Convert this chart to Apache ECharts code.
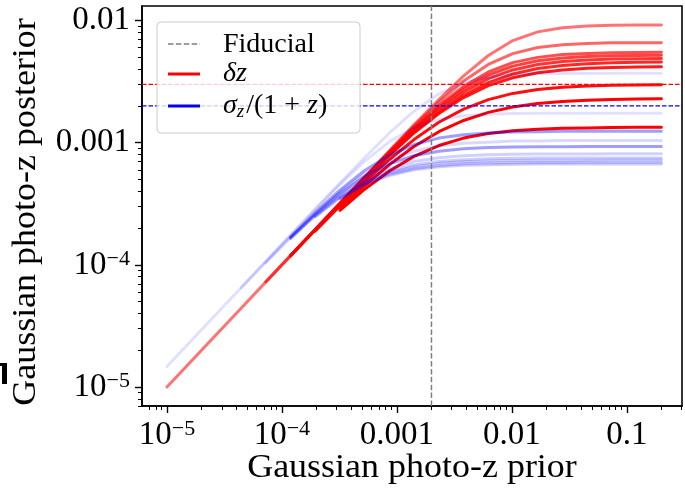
<!DOCTYPE html>
<html>
<head>
<meta charset="utf-8">
<script src="https://cdn.jsdelivr.net/npm/echarts@6/dist/echarts.min.js"></script>
<style>
  html, body { margin: 0; padding: 0; background: #ffffff; }
  #chart { width: 685px; height: 490px; }
</style>
</head>
<body>
<div id="chart"></div>
<script>
// Prior widths (x) at which the posterior was evaluated
const prior = [1.00e-5, 1.64e-5, 2.69e-5, 4.42e-5, 7.25e-5, 1.19e-4, 1.95e-4, 3.20e-4, 5.25e-4, 8.62e-4,
               1.41e-3, 2.32e-3, 3.81e-3, 6.25e-3, 1.02e-2, 1.68e-2, 2.76e-2, 4.53e-2, 7.43e-2, 0.122, 0.2];

// Posterior on the photo-z shift, one curve per tomographic bin (null = not evaluated)
const dz1  = [1.00e-5,1.64e-5,2.69e-5,4.42e-5,7.25e-5,1.19e-4,1.95e-4,3.20e-4,5.24e-4,8.57e-4,1.40e-3,2.25e-3,3.52e-3,5.17e-3,6.85e-3,8.07e-3,8.73e-3,9.02e-3,9.14e-3,9.18e-3,9.20e-3];
const dz2  = [null,null,null,null,7.25e-5,1.19e-4,1.95e-4,3.19e-4,5.22e-4,8.50e-4,1.37e-3,2.15e-3,3.20e-3,4.37e-3,5.36e-3,6.01e-3,6.34e-3,6.49e-3,6.56e-3,6.58e-3,6.59e-3];
const dz3  = [null,null,null,null,null,1.19e-4,1.95e-4,3.18e-4,5.18e-4,8.35e-4,1.32e-3,2.02e-3,2.89e-3,3.79e-3,4.52e-3,4.99e-3,5.26e-3,5.38e-3,5.45e-3,5.48e-3,5.49e-3];
const dz4  = [null,null,null,null,null,1.19e-4,1.94e-4,3.17e-4,5.14e-4,8.25e-4,1.29e-3,1.95e-3,2.75e-3,3.57e-3,4.23e-3,4.68e-3,4.93e-3,5.07e-3,5.14e-3,5.17e-3,5.19e-3];
const dz5  = [null,null,null,null,null,1.19e-4,1.94e-4,3.15e-4,5.09e-4,8.11e-4,1.26e-3,1.87e-3,2.60e-3,3.34e-3,3.94e-3,4.36e-3,4.61e-3,4.75e-3,4.83e-3,4.86e-3,4.88e-3];
const dz6  = [null,null,null,null,null,null,1.93e-4,3.13e-4,5.02e-4,7.93e-4,1.22e-3,1.78e-3,2.44e-3,3.10e-3,3.65e-3,4.04e-3,4.28e-3,4.43e-3,4.51e-3,4.55e-3,4.57e-3];
const dz7  = [null,null,null,null,null,null,1.92e-4,3.12e-4,5.00e-4,7.86e-4,1.20e-3,1.73e-3,2.34e-3,2.93e-3,3.40e-3,3.74e-3,3.94e-3,4.06e-3,4.13e-3,4.16e-3,4.18e-3];
const dz8  = [null,null,null,null,null,null,1.89e-4,3.03e-4,4.77e-4,7.28e-4,1.06e-3,1.47e-3,1.88e-3,2.25e-3,2.53e-3,2.72e-3,2.84e-3,2.91e-3,2.95e-3,2.97e-3,2.98e-3];
const dz9  = [null,null,null,null,null,null,null,2.90e-4,4.46e-4,6.61e-4,9.30e-4,1.23e-3,1.52e-3,1.77e-3,1.96e-3,2.09e-3,2.17e-3,2.22e-3,2.26e-3,2.28e-3,2.29e-3];
const dz10 = [null,null,null,null,null,null,null,2.79e-4,4.16e-4,5.86e-4,7.72e-4,9.47e-4,1.09e-3,1.19e-3,1.25e-3,1.29e-3,1.31e-3,1.32e-3,1.33e-3,1.34e-3,1.34e-3];

// Posterior on the scatter sigma_z/(1+z), one curve per tomographic bin (null = not evaluated)
const sz1  = [1.47e-5,2.41e-5,3.96e-5,6.49e-5,1.07e-4,1.75e-4,2.86e-4,4.67e-4,7.56e-4,1.20e-3,1.81e-3,2.51e-3,3.09e-3,3.43e-3,3.59e-3,3.66e-3,3.68e-3,3.69e-3,3.70e-3,3.70e-3,3.70e-3];
const sz2  = [null,null,null,6.49e-5,1.06e-4,1.74e-4,2.83e-4,4.54e-4,7.06e-4,1.02e-3,1.33e-3,1.55e-3,1.66e-3,1.71e-3,1.73e-3,1.74e-3,1.74e-3,1.74e-3,1.74e-3,1.74e-3,1.74e-3];
const sz3  = [null,null,null,null,null,1.69e-4,2.67e-4,4.09e-4,5.92e-4,7.90e-4,9.63e-4,1.09e-3,1.16e-3,1.20e-3,1.22e-3,1.23e-3,1.24e-3,1.24e-3,1.24e-3,1.24e-3,1.24e-3];
const sz4  = [null,null,null,null,1.04e-4,1.67e-4,2.62e-4,3.94e-4,5.56e-4,7.18e-4,8.50e-4,9.38e-4,9.88e-4,1.01e-3,1.03e-3,1.03e-3,1.04e-3,1.04e-3,1.04e-3,1.04e-3,1.04e-3];
const sz5  = [null,null,null,null,null,1.66e-4,2.58e-4,3.84e-4,5.31e-4,6.72e-4,7.81e-4,8.51e-4,8.90e-4,9.11e-4,9.21e-4,9.26e-4,9.28e-4,9.29e-4,9.30e-4,9.30e-4,9.30e-4];
const sz6  = [null,null,null,null,null,1.64e-4,2.53e-4,3.69e-4,4.98e-4,6.15e-4,7.01e-4,7.53e-4,7.82e-4,7.96e-4,8.03e-4,8.07e-4,8.09e-4,8.09e-4,8.10e-4,8.10e-4,8.10e-4];
const sz7  = [null,null,null,null,null,null,2.49e-4,3.60e-4,4.79e-4,5.84e-4,6.58e-4,7.02e-4,7.26e-4,7.38e-4,7.45e-4,7.48e-4,7.49e-4,7.50e-4,7.50e-4,7.50e-4,7.50e-4];
const sz8  = [null,null,null,null,null,null,2.47e-4,3.55e-4,4.69e-4,5.68e-4,6.36e-4,6.77e-4,6.98e-4,7.09e-4,7.15e-4,7.17e-4,7.19e-4,7.19e-4,7.20e-4,7.20e-4,7.20e-4];
const sz9  = [null,null,null,null,null,null,null,3.49e-4,4.59e-4,5.51e-4,6.14e-4,6.51e-4,6.71e-4,6.81e-4,6.86e-4,6.88e-4,6.89e-4,6.90e-4,6.90e-4,6.90e-4,6.90e-4];
const sz10 = [null,null,null,null,null,null,null,3.46e-4,4.52e-4,5.39e-4,5.99e-4,6.34e-4,6.52e-4,6.61e-4,6.66e-4,6.68e-4,6.69e-4,6.70e-4,6.70e-4,6.70e-4,6.70e-4];

// Fiducial values
const fiducialPrior = 0.002;
const fiducialDeltaZ = 0.003;
const fiducialSigmaZ = 0.002;

// Tick values and their labels
const xTickValues = [1e-5, 1e-4, 1e-3, 1e-2, 1e-1];
const xTickLabels = ['10^-5', '10^-4', '0.001', '0.01', '0.1'];
const yTickValues = [1e-5, 1e-4, 1e-3, 1e-2];
const yTickLabels = ['10^-5', '10^-4', '0.001', '0.01'];

// Axis titles
const xTitle = 'Gaussian photo-z prior';
const yTitle = 'Gaussian photo-z posterior';

// Line opacities per bin
const redAlpha  = [0.55, 0.6, 0.7, 0.75, 0.8, 0.85, 0.9, 0.95, 1.0, 1.0];
const blueAlpha = [0.12, 0.12, 0.38, 0.15, 0.38, 0.18, 0.2, 0.2, 0.2, 0.2];

const deltaZCurves = [dz1, dz2, dz3, dz4, dz5, dz6, dz7, dz8, dz9, dz10];
const sigmaZCurves = [sz1, sz2, sz3, sz4, sz5, sz6, sz7, sz8, sz9, sz10];

const X_MIN = Math.pow(10, -5.217), X_MAX = Math.pow(10, -0.5195);
const Y_MIN = Math.pow(10, -5.1555), Y_MAX = Math.pow(10, -1.8813);

const FONT = 'Liberation Serif';

// minor ticks at 2..9 x 10^n inside the axis range
function minorTicks(lo, hi) {
  const out = [];
  for (let e = -7; e <= 0; e++) {
    for (let m = 2; m <= 9; m++) {
      const v = m * Math.pow(10, e);
      if (v >= lo && v <= hi) out.push(v);
    }
  }
  return out;
}

function tickFormatter(values, labels) {
  return function (val) {
    const lv = Math.log10(val);
    let best = 0;
    for (let i = 1; i < values.length; i++) {
      if (Math.abs(Math.log10(values[i]) - lv) < Math.abs(Math.log10(values[best]) - lv)) best = i;
    }
    const t = labels[best];
    if (t.indexOf('^') >= 0) {
      const parts = t.split('^');
      return '{b|' + parts[0] + '}{s|' + parts[1].replace('-', '\u2212') + '}';
    }
    return '{b|' + t + '}';
  };
}

const tickRich = {
  b: { fontFamily: FONT, fontSize: 33, color: '#000', lineHeight: 34 },
  s: { fontFamily: FONT, fontSize: 22, color: '#000', lineHeight: 22, verticalAlign: 'top' }
};

function curveSeries(ys, color, alpha) {
  const pts = [];
  prior.forEach((x, j) => { if (ys[j] !== null) pts.push([x, ys[j]]); });
  return {
    type: 'line',
    xAxisIndex: 0, yAxisIndex: 0,
    data: pts,
    symbol: 'none', showSymbol: false, silent: true,
    lineStyle: { width: 3, color: 'rgba(' + color + ',' + alpha + ')', cap: 'round', join: 'round' },
    z: 2
  };
}

function refLine(points, color, width, dash) {
  return {
    type: 'line', xAxisIndex: 0, yAxisIndex: 0,
    data: points, symbol: 'none', showSymbol: false, silent: true, z: 4,
    lineStyle: { color: color, width: width, type: dash }
  };
}

const series = [];
deltaZCurves.forEach((ys, i) => series.push(curveSeries(ys, '255,0,0', redAlpha[i])));
sigmaZCurves.forEach((ys, i) => series.push(curveSeries(ys, '0,0,255', blueAlpha[i])));

// fiducial reference lines spanning the whole plot
series.push(refLine([[fiducialPrior, Y_MIN], [fiducialPrior, Y_MAX]], '#7f7f7f', 1.5, [5.5, 2.4]));
series.push(refLine([[X_MIN, fiducialDeltaZ], [X_MAX, fiducialDeltaZ]], '#ff0000', 1.3, [4.5, 2]));
series.push(refLine([[X_MIN, fiducialSigmaZ], [X_MAX, fiducialSigmaZ]], '#0000ff', 1.3, [4.5, 2]));

const chart = echarts.init(document.getElementById('chart'), null, { renderer: 'canvas' });

const option = {
  animation: false,
  backgroundColor: '#ffffff',
  grid: { left: 142, right: 3, top: 6, bottom: 84, show: true, borderColor: '#000', borderWidth: 1.6, backgroundColor: 'transparent' },
  xAxis: [
    {
      type: 'log', logBase: 10, min: X_MIN, max: X_MAX, position: 'bottom',
      axisLine: { show: true, onZero: false, lineStyle: { color: '#000', width: 1.6 } },
      axisTick: { show: true, customValues: xTickValues, length: 7, lineStyle: { color: '#000', width: 1.4 } },
      axisLabel: { show: true, customValues: xTickValues, margin: 12, formatter: tickFormatter(xTickValues, xTickLabels), rich: tickRich },
      splitLine: { show: false }, minorTick: { show: false }
    },
    {
      type: 'log', logBase: 10, min: X_MIN, max: X_MAX, position: 'bottom',
      axisLine: { show: false, onZero: false },
      axisTick: { show: true, customValues: minorTicks(X_MIN, X_MAX), length: 4, lineStyle: { color: '#000', width: 1 } },
      axisLabel: { show: false }, splitLine: { show: false }
    }
  ],
  yAxis: [
    {
      type: 'log', logBase: 10, min: Y_MIN, max: Y_MAX, position: 'left',
      axisLine: { show: true, onZero: false, lineStyle: { color: '#000', width: 1.6 } },
      axisTick: { show: true, customValues: yTickValues, length: 7, lineStyle: { color: '#000', width: 1.4 } },
      axisLabel: { show: true, customValues: yTickValues, margin: 12, formatter: tickFormatter(yTickValues, yTickLabels), rich: tickRich },
      splitLine: { show: false }
    },
    {
      type: 'log', logBase: 10, min: Y_MIN, max: Y_MAX, position: 'left',
      axisLine: { show: false, onZero: false },
      axisTick: { show: true, customValues: minorTicks(Y_MIN, Y_MAX), length: 4, lineStyle: { color: '#000', width: 1 } },
      axisLabel: { show: false }, splitLine: { show: false }
    }
  ],
  series: series,
  graphic: [
    // axis titles
    {
      type: 'text', z: 100, silent: true, x: 412, y: 468, scaleX: 1.09,
      style: { text: xTitle, fontFamily: FONT, fontSize: 33, fill: '#000', align: 'center', verticalAlign: 'middle' }
    },
    {
      type: 'text', z: 100, silent: true, x: 26, y: 212, rotation: Math.PI / 2, scaleX: 1.09,
      style: { text: yTitle, fontFamily: FONT, fontSize: 33, fill: '#000', align: 'center', verticalAlign: 'middle' }
    },
    // small black glyph fragment at the left margin
    { type: 'rect', z: 100, silent: true, shape: { x: 2, y: 363, width: 5, height: 21 }, style: { fill: '#000' } },
    { type: 'rect', z: 100, silent: true, shape: { x: 0, y: 363, width: 4, height: 3 }, style: { fill: '#000' } },
    // legend
    {
      type: 'rect', z: 100, silent: true,
      shape: { x: 157, y: 22, width: 203, height: 111, r: 4 },
      style: { fill: 'rgba(255,255,255,0.8)', stroke: '#cccccc', lineWidth: 1 }
    },
    {
      type: 'line', z: 101, silent: true,
      shape: { x1: 168, y1: 44, x2: 200, y2: 44 },
      style: { stroke: '#7f7f7f', lineWidth: 1.5, lineDash: [5.5, 2.4] }
    },
    {
      type: 'line', z: 101, silent: true,
      shape: { x1: 168, y1: 74, x2: 200, y2: 74 },
      style: { stroke: '#ff0000', lineWidth: 3 }
    },
    {
      type: 'line', z: 101, silent: true,
      shape: { x1: 168, y1: 106, x2: 200, y2: 106 },
      style: { stroke: '#0000ff', lineWidth: 3 }
    },
    {
      type: 'text', z: 101, silent: true, x: 223, y: 45,
      style: { text: 'Fiducial', fontFamily: FONT, fontSize: 28, fill: '#000', verticalAlign: 'middle' }
    },
    {
      type: 'text', z: 101, silent: true, x: 223, y: 74,
      style: { text: '\u03B4z', fontFamily: FONT, fontStyle: 'italic', fontSize: 28, fill: '#000', verticalAlign: 'middle' }
    },
    {
      type: 'text', z: 101, silent: true, x: 223, y: 106,
      style: {
        text: '{i|\u03C3}{sub|z}{n|/(1 + }{i|z}{n|)}',
        verticalAlign: 'middle',
        rich: {
          i: { fontFamily: FONT, fontStyle: 'italic', fontSize: 28, fill: '#000', lineHeight: 30, verticalAlign: 'middle' },
          n: { fontFamily: FONT, fontSize: 28, fill: '#000', lineHeight: 30, verticalAlign: 'middle' },
          sub: { fontFamily: FONT, fontStyle: 'italic', fontSize: 19, fill: '#000', lineHeight: 30, verticalAlign: 'bottom', padding: [0, 2, 0, 0] }
        }
      }
    }
  ]
};

chart.setOption(option);
</script>
</body>
</html>
